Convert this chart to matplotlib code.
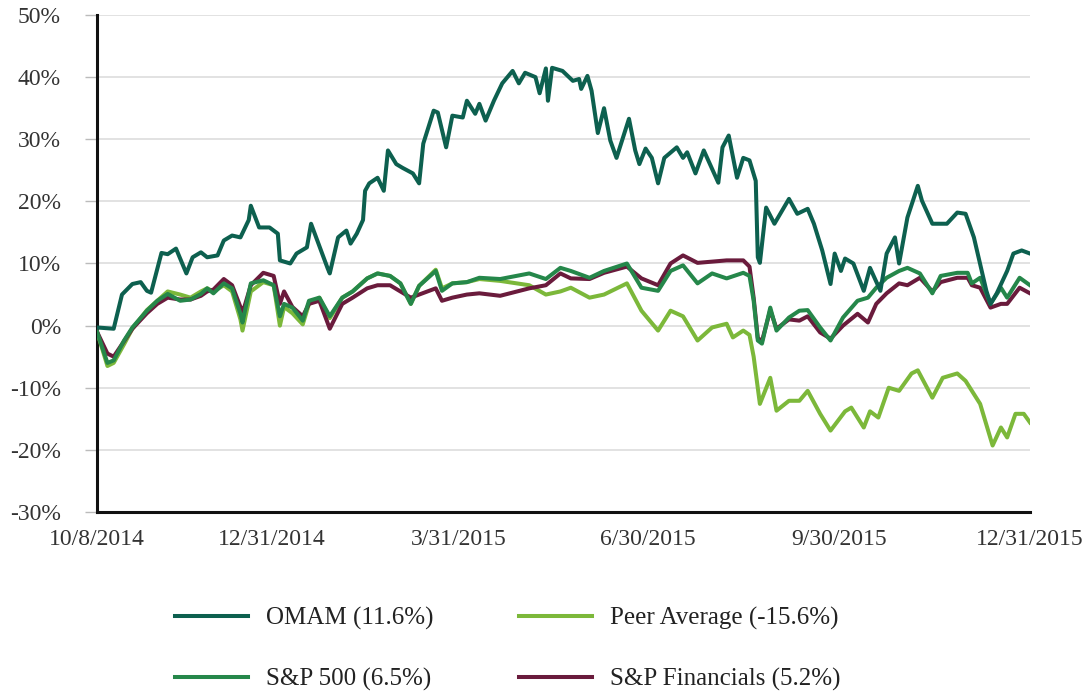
import matplotlib
matplotlib.use('Agg')
from matplotlib import pyplot as plt
import numpy as np
import pandas as pd

matplotlib.rcParams['font.family'] = ['Liberation Serif', 'DejaVu Serif']

start = pd.Timestamp('2014-10-08')

# days since 10/8/2014 and cumulative return (%)
omam_days = [0, 8, 12, 17, 21, 24, 26, 31, 34, 38, 43, 46, 50, 53, 58, 61, 65, 69, 73, 74,
             78, 83, 87, 88, 93, 96, 101, 103, 106, 111, 112, 116, 120, 122, 125, 128, 129,
             131, 135, 138, 140, 144, 147, 152, 155, 157, 162, 164, 168, 171, 176, 178, 182,
             184, 187, 191, 195, 200, 203, 206, 211, 213, 216, 217, 219, 224, 229, 232, 233,
             236, 238, 241, 244, 247, 250, 256, 259, 261, 264, 267, 270, 273, 279, 282, 284,
             288, 292, 299, 301, 304, 308, 311, 314, 317, 318, 319, 322, 326, 333, 337, 342,
             345, 349, 353, 355, 358, 360, 364, 369, 372, 377, 380, 384, 386, 390, 395, 397,
             402, 409, 414, 418, 422, 428, 430, 433, 438, 441, 445, 449]
omam = [-0.3, -0.5, 5.0, 6.7, 7.0, 5.6, 5.3, 11.7, 11.5, 12.4, 8.4, 11.0, 11.8, 11.0, 11.3,
        13.7, 14.5, 14.2, 17.0, 19.3, 15.8, 15.8, 14.8, 10.5, 10.0, 11.6, 12.6, 16.4, 13.7,
        9.2, 8.4, 14.2, 15.3, 13.2, 14.8, 17.0, 21.7, 22.9, 23.8, 21.7, 28.2, 26.0, 25.4,
        24.5, 22.9, 29.3, 34.6, 34.3, 28.7, 33.8, 33.5, 36.2, 34.1, 35.7, 33.0, 36.2, 39.0,
        41.0, 39.0, 40.7, 40.0, 37.4, 41.4, 36.2, 41.5, 41.0, 39.4, 39.7, 38.1, 40.2, 37.8,
        31.0, 35.0, 29.8, 27.0, 33.3, 28.2, 26.0, 28.5, 27.0, 22.9, 27.0, 28.7, 27.0, 27.9,
        24.5, 28.2, 23.0, 28.7, 30.6, 23.8, 27.0, 26.6, 23.3, 11.0, 10.1, 19.0, 16.4, 20.4,
        18.0, 18.8, 16.4, 12.1, 6.7, 11.6, 8.8, 10.8, 10.0, 5.6, 9.3, 5.6, 11.6, 14.2, 10.0,
        17.4, 22.5, 20.1, 16.4, 16.4, 18.2, 18.0, 14.2, 5.6, 3.5, 5.2, 8.8, 11.6, 12.1, 11.6]

idx_days = [0, 5, 8, 13, 17, 24, 29, 34, 40, 45, 50, 53, 56, 61, 65, 69, 70, 74, 80, 85, 88,
            90, 94, 99, 102, 107, 112, 118, 123, 130, 135, 141, 146, 151, 155, 163, 166, 171,
            178, 184, 194, 208, 216, 223, 228, 237, 244, 255, 262, 270, 276, 282, 289, 296,
            303, 311, 314, 316, 318, 320, 324, 327, 333, 338, 342, 348, 353, 359, 366, 371,
            375, 380, 386, 390, 396, 402, 406, 414, 419, 421, 425, 430, 435, 438, 444, 449]
sp500 = [-1.0, -6.0, -5.6, -2.4, -0.3, 2.4, 4.0, 5.1, 4.0, 4.2, 5.1, 6.0, 5.2, 6.8, 6.0,
         1.9, 0.5, 6.8, 7.3, 6.5, 1.5, 3.5, 2.9, 0.8, 4.0, 4.5, 1.5, 4.5, 5.5, 7.6, 8.4, 8.0,
         6.8, 3.5, 6.4, 8.8, 5.6, 6.8, 7.0, 7.7, 7.5, 8.4, 7.5, 9.3, 8.8, 7.7, 8.8, 10.0, 6.1,
         5.6, 8.8, 9.7, 6.8, 8.4, 7.6, 8.5, 8.0, 4.0, -2.4, -2.9, 2.9, -0.8, 1.3, 2.4, 2.5,
         -0.3, -2.4, 1.3, 4.0, 4.5, 6.1, 7.7, 8.8, 9.3, 8.4, 5.2, 8.0, 8.5, 8.5, 6.8, 7.7,
         3.5, 6.1, 4.5, 7.7, 6.5]
financials = [-1.0, -4.5, -5.0, -2.5, -0.5, 2.0, 3.5, 4.5, 4.2, 4.2, 4.8, 5.5, 5.8, 7.5,
              6.5, 3.0, 2.0, 6.5, 8.5, 8.0, 3.5, 5.5, 3.0, 1.5, 3.5, 4.0, -0.5, 3.5, 4.5, 6.0,
              6.5, 6.5, 5.5, 4.5, 5.0, 6.0, 4.0, 4.5, 5.0, 5.2, 4.8, 6.0, 6.5, 8.4, 7.6, 7.5,
              8.5, 9.5, 7.6, 6.5, 10.0, 11.3, 10.1, 10.3, 10.5, 10.5, 9.5, 4.5, -2.0, -2.5,
              2.5, -0.5, 1.0, 0.8, 1.5, -1.1, -2.1, 0.0, 1.9, 0.5, 3.5, 5.2, 6.8, 6.5, 7.7,
              5.5, 7.0, 7.7, 7.7, 6.5, 6.1, 2.9, 3.5, 3.5, 6.1, 5.2]

peer_days = [0, 5, 8, 13, 17, 24, 29, 34, 40, 45, 50, 53, 56, 61, 65, 69, 70, 74, 80, 85, 88,
             90, 94, 99, 102, 107, 112, 118, 123, 130, 135, 141, 146, 151, 155, 163, 166, 171,
             178, 184, 194, 208, 216, 223, 228, 237, 244, 255, 262, 270, 276, 282, 289, 296,
             303, 306, 311, 314, 316, 319, 324, 327, 333, 338, 342, 348, 353, 360, 363, 369,
             372, 376, 381, 386, 392, 395, 402, 407, 414, 418, 425, 431, 435, 438, 442, 446,
             449]
peer = [-1.0, -6.5, -6.0, -3.0, -0.5, 2.5, 4.0, 5.5, 5.0, 4.5, 5.5, 6.0, 5.5, 6.5, 5.5, 1.0,
        -0.8, 5.5, 7.0, 6.5, 0.0, 3.0, 2.0, 0.2, 3.5, 4.5, 1.2, 4.5, 5.5, 7.6, 8.4, 8.0, 6.8,
        3.5, 6.4, 9.0, 6.0, 6.8, 7.0, 7.5, 7.2, 6.5, 5.0, 5.5, 6.1, 4.5, 5.0, 6.8, 2.4, -0.8,
        2.4, 1.5, -2.4, -0.3, 0.3, -1.9, -0.8, -1.5, -5.0, -12.6, -8.4, -13.7, -12.1, -12.1,
        -10.5, -14.2, -16.9, -13.8, -13.2, -16.4, -13.8, -14.8, -10.0, -10.5, -7.7, -7.2,
        -11.6, -8.4, -7.7, -8.9, -12.6, -19.3, -16.4, -18.0, -14.2, -14.2, -15.6]

tick_dates = ['2014-10-08', '2014-12-31', '2015-03-31', '2015-06-30', '2015-09-30', '2015-12-31']
tick_labels = ['10/8/2014', '12/31/2014', '3/31/2015', '6/30/2015', '9/30/2015', '12/31/2015']
yticks = [-30, -20, -10, 0, 10, 20, 30, 40, 50]

series = [
    ('OMAM (11.6%)', omam_days, omam, '#0d604f'),
    ('S&P 500 (6.5%)', idx_days, sp500, '#25874a'),
    ('Peer Average (-15.6%)', peer_days, peer, '#7cb83a'),
    ('S&P Financials (5.2%)', idx_days, financials, '#6a1b3c'),
]


def to_dates(days):
    return start + pd.to_timedelta(days, unit='D')


fig = plt.figure(figsize=(10.88, 6.98), dpi=100)
ax = fig.add_axes([0.0892, 0.2665, 0.8575, 0.712])

# draw in back-to-front order; legend keeps its own order
order = [2, 3, 1, 0]
lines = {}
for i in order:
    name, d, v, c = series[i]
    ln, = ax.plot(to_dates(d), v, color=c, lw=2.9, label=name, zorder=3)
    lines[i] = ln

ax.set_xlim(pd.Timestamp(tick_dates[0]), pd.Timestamp(tick_dates[-1]))
ax.set_ylim(-30, 50)
ax.set_yticks(yticks)
ax.set_yticklabels(['%d%%' % t for t in yticks])
ax.set_xticks(pd.to_datetime(tick_dates))
ax.set_xticklabels(tick_labels)
ax.grid(axis='y', color='#dddddd', lw=1.2, zorder=0)
ax.set_axisbelow(True)

for s in ['top', 'right']:
    ax.spines[s].set_visible(False)
for s in ['left', 'bottom']:
    ax.spines[s].set_linewidth(2.2)
    ax.spines[s].set_color('#111111')

ax.tick_params(axis='y', length=9, width=1, color='#bbbbbb', pad=17, labelsize=17, labelcolor='#333333')
ax.tick_params(axis='x', length=0, pad=12, labelsize=17, labelcolor='#333333')

handles = [lines[i] for i in range(4)]
fig.legend(handles, [series[i][0] for i in range(4)], ncol=2, loc='center left',
           bbox_to_anchor=(175 / 1088, 1 - 649 / 698), frameon=False, fontsize=18,
           borderpad=0, borderaxespad=0,
           handlelength=2.9, handletextpad=0.72, columnspacing=3.45, labelspacing=1.5,
           labelcolor='#222222')

plt.savefig('out.png', dpi=100)
